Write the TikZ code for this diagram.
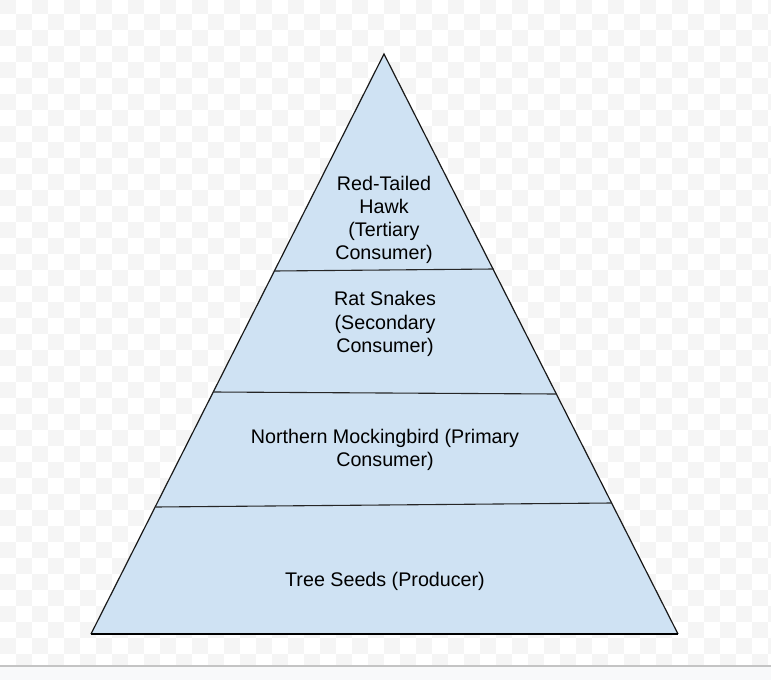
\documentclass[tikz,border=0pt]{standalone}
\usepackage{fontspec}
\setmainfont{Liberation Sans}
\definecolor{tierfill}{HTML}{CFE2F3}
\definecolor{checkgray}{HTML}{F5F5F5}
\definecolor{footfill}{HTML}{F8F9FA}
\definecolor{footline}{HTML}{C4C4C4}
\definecolor{baseline}{HTML}{6B7280}
\tikzset{
  tiertext/.style={align=center, font=\fontsize{19.7}{23.2}\selectfont, text=black, inner sep=0pt},
  divider/.style={draw=black!85, line width=1.1pt},
  outline/.style={draw=black!90, line width=1.2pt, line join=miter},
}
\begin{document}
\begin{tikzpicture}[x=1pt,y=-1pt]
\useasboundingbox (0,0) rectangle (771,680);
% checkered background
\begin{scope}
\clip (0,0) rectangle (771,666);
\foreach \i in {0,...,48}{
  \foreach \j in {0,...,42}{
    \pgfmathtruncatemacro{\s}{mod(\i+\j,2)}
    \ifnum\s=0
      \fill[checkgray] (\i*16,\j*16-2) rectangle ++(16,16);
    \fi
  }
}
\end{scope}
\fill[footfill] (0,666) rectangle (771,680);
\draw[footline, line width=1.3pt] (0,666) -- (771,666);
% pyramid
\coordinate (apex) at (384,54);
\coordinate (bl) at (91,634);
\coordinate (br) at (678,634);
\fill[tierfill] (bl) -- (apex) -- (br) -- cycle;
\draw[outline] (bl) -- (apex) -- (br);
\draw[baseline, line width=2pt] (bl) -- (br);
\coordinate (l1) at (274.4,271);
\coordinate (r1) at (493.5,269);
\coordinate (l2) at (213.3,392);
\coordinate (r2) at (556.3,394);
\coordinate (l3) at (155.5,507);
\coordinate (r3) at (611.5,503);
\draw[divider] (l1) -- (r1);
\draw[divider] (l2) -- (r2);
\draw[divider] (l3) -- (r3);
% labels
\node[tiertext] (hawk) at (384,220) {Red-Tailed\\Hawk\\(Tertiary\\Consumer)};
\node[tiertext] (snake) at (385,324) {Rat Snakes\\(Secondary\\Consumer)};
\node[tiertext] (bird) at (385,450) {Northern Mockingbird (Primary\\Consumer)};
\node[tiertext] (seed) at (385,581.5) {Tree Seeds (Producer)};
\end{tikzpicture}
\end{document}
